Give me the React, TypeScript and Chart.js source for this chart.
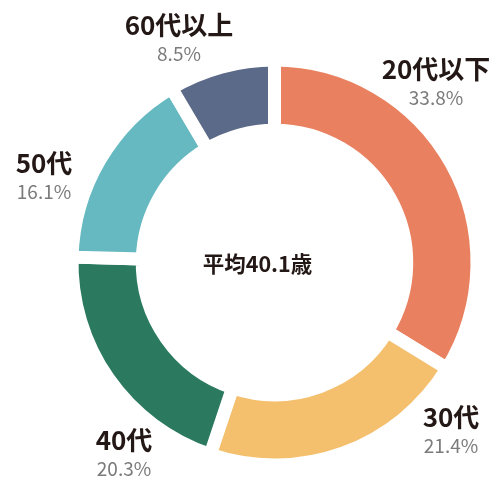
import React, { useEffect, useRef } from "react";
import { Chart, registerables } from "chart.js";

Chart.register(...registerables);

const categories = ["20代以下", "30代", "40代", "50代", "60代以上"];
const shares = [33.8, 21.4, 20.3, 16.1, 8.5];
const pctLabels = ["33.8%", "21.4%", "20.3%", "16.1%", "8.5%"];
const centerLabel = "平均40.1歳";

const colors = ["#E9805F", "#F4C06E", "#2B7A60", "#66B9C1", "#5B6A88"];
// label placement relative to chart centre (px)
const labelOffsets: [number, number][] = [
  [161.5, -193.5],
  [176.5, 154.5],
  [-150.5, 177.5],
  [-230.5, -99.5],
  [-95.5, -237.5],
];

const labelPlugin = {
  id: "ringLabels",
  afterDraw(chart: any) {
    const meta = chart.getDatasetMeta(0);
    const a = meta.data[0];
    if (!a) return;
    const cx = a.x;
    const cy = a.y;
    const ctx = chart.ctx as CanvasRenderingContext2D;
    ctx.save();
    ctx.textAlign = "center";
    ctx.textBaseline = "middle";
    categories.forEach((c, i) => {
      const [dx, dy] = labelOffsets[i];
      ctx.fillStyle = "#231815";
      ctx.font = 'bold 26px "Noto Sans CJK JP"';
      ctx.fillText(c, cx + dx, cy + dy);
      ctx.fillStyle = "#7b7b7b";
      ctx.font = '19px "Noto Sans CJK JP"';
      ctx.fillText(pctLabels[i], cx + dx, cy + dy + 29);
    });
    ctx.fillStyle = "#231815";
    ctx.font = 'bold 21.5px "Noto Sans CJK JP"';
    ctx.fillText(centerLabel, cx - 17, cy + 1);
    ctx.restore();
  },
};

export default function App() {
  const ref = useRef<HTMLCanvasElement | null>(null);
  useEffect(() => {
    if (!ref.current) return;
    const chart = new Chart(ref.current, {
      type: "doughnut",
      data: {
        labels: categories,
        datasets: [
          {
            data: shares,
            backgroundColor: colors,
            borderColor: "#ffffff",
            borderWidth: 13,
            borderJoinStyle: "miter",
            hoverOffset: 0,
          } as any,
        ],
      },
      options: {
        responsive: false,
        animation: false,
        devicePixelRatio: 1,
        cutout: "65.3%",
        layout: { padding: { left: 65.5, top: 53.5, right: 13.5, bottom: 7.5 } },
        plugins: {
          legend: { display: false },
          tooltip: { enabled: false },
        },
      } as any,
      plugins: [labelPlugin],
    });
    return () => chart.destroy();
  }, []);
  return (
    <div style={{ position: "absolute", left: 0, top: 0, width: 497, height: 479, background: "#fff" }}>
      <canvas ref={ref} width={497} height={479} />
    </div>
  );
}
